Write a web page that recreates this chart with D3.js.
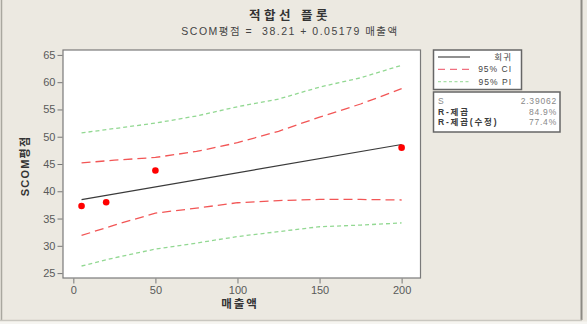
<!DOCTYPE html>
<meta charset="utf-8">
<head>
    <meta charset="utf-8">
    <title>적합선 플롯</title>
    <script src="https://d3js.org/d3.v7.min.js" charset="utf-8"></script>
    <style>
        html, body {
            margin: 0;
            padding: 0;
            background: #ece9e1;
        }
        text {
            font-family: "Liberation Sans", "Noto Sans CJK KR", sans-serif;
        }
        .axis text {
            font-size: 11px;
            fill: #5a5a5a;
        }
        .axis path, .axis line {
            stroke: #777;
        }
        .line {
            fill: none;
        }
    </style>
</head>

<body>
<div class="chart"></div>

<script>

/****************************
1. データ
****************************/

// 관측값
var salesX = [5, 20, 50, 200];
var scoreY = [37.3, 38.0, 43.8, 48.0];

// 적합선 (SCOM평점 = 38.21 + 0.05179 매출액) 양 끝
var fitX = [5, 200];
var fitY = [38.47, 48.57];

// 신뢰구간 / 예측구간
var bandX   = [5, 25, 50, 75, 100, 125, 150, 175, 200];
var ciUpper = [45.2, 45.7, 46.2, 47.3, 48.9, 51.0, 53.6, 56.0, 58.8];
var ciLower = [31.9, 33.8, 36.0, 36.9, 37.9, 38.3, 38.5, 38.5, 38.4];
var piUpper = [50.7, 51.5, 52.5, 53.8, 55.5, 56.9, 59.1, 60.8, 63.1];
var piLower = [26.3, 27.8, 29.4, 30.5, 31.7, 32.6, 33.5, 33.8, 34.2];

var xTicks = [0, 50, 100, 150, 200];
var yTicks = [25, 30, 35, 40, 45, 50, 55, 60, 65];

var legendLabels = ["회귀", "95% CI", "95% PI"];
var statNames  = ["S", "R-제곱", "R-제곱(수정)"];
var statValues = ["2.39062", "84.9%", "77.4%"];

/****************************
2. svg
****************************/

var W = 587, H = 324;
var plot = {left: 63, right: 420.5, top: 50, bottom: 278};

var svg = d3.select(".chart")
    .append("svg")
    .attr("width", W)
    .attr("height", H);

// 바깥 테두리
svg.append("line").attr("x1", 1.5).attr("x2", 1.5).attr("y1", 0).attr("y2", 320)
    .attr("stroke", "#a9a79f").attr("stroke-width", 1.5);
svg.append("line").attr("x1", 581.5).attr("x2", 581.5).attr("y1", 0).attr("y2", 320)
    .attr("stroke", "#8c8a83").attr("stroke-width", 2);
svg.append("line").attr("x1", 0).attr("x2", 582).attr("y1", 320.5).attr("y2", 320.5)
    .attr("stroke", "#c9c7c0").attr("stroke-width", 1.5);
svg.append("rect").attr("x", 0).attr("y", 321.5).attr("width", W).attr("height", 3)
    .attr("fill", "#f6f5f1");

var xScale = d3.scaleLinear()
    .domain([-6.3, 211.5])
    .range([plot.left, plot.right]);

var yScale = d3.scaleLinear()
    .domain([24.1, 65.9])
    .range([plot.bottom, plot.top]);

// 플롯 영역
svg.append("rect")
    .attr("x", plot.left).attr("y", plot.top)
    .attr("width", plot.right - plot.left)
    .attr("height", plot.bottom - plot.top)
    .attr("fill", "#fff")
    .attr("stroke", "#7a7a7a")
    .attr("stroke-width", 1.2);

/****************************
3. 축
****************************/

var yAxis = svg.append("g")
    .attr("class", "axis")
    .attr("transform", "translate(" + (plot.left - 0.5) + ",0)")
    .call(d3.axisLeft(yScale).tickValues(yTicks).tickSize(5).tickPadding(2));
yAxis.select(".domain").remove();

var xAxis = svg.append("g")
    .attr("class", "axis")
    .attr("transform", "translate(0," + (plot.bottom + 0.5) + ")")
    .call(d3.axisBottom(xScale).tickValues(xTicks).tickSize(5).tickPadding(3));
xAxis.select(".domain").remove();

svg.append("text")
    .attr("x", 240).attr("y", 308)
    .attr("text-anchor", "middle")
    .style("font-size", "11.5px").style("font-weight", "bold").style("fill", "#333")
    .style("letter-spacing", "2px")
    .text("매출액");

svg.append("text")
    .attr("transform", "translate(29,166) rotate(-90)")
    .attr("text-anchor", "middle")
    .style("font-size", "11px").style("font-weight", "bold").style("fill", "#333")
    .style("letter-spacing", "1.2px")
    .text("SCOM평점");

// 제목
svg.append("text")
    .attr("x", 290).attr("y", 20)
    .attr("text-anchor", "middle")
    .style("font-size", "12.5px").style("font-weight", "bold").style("fill", "#333")
    .style("letter-spacing", "3.5px")
    .text("적합선 플롯");

svg.append("text")
    .attr("x", 290).attr("y", 35)
    .attr("text-anchor", "middle")
    .style("font-size", "10.5px").style("fill", "#444")
    .style("letter-spacing", "1.5px")
    .attr("xml:space", "preserve")
    .text("SCOM평점 =  38.21 + 0.05179 매출액");

/****************************
4. 선과 점
****************************/

var line = d3.line()
    .x(d => xScale(d[0]))
    .y(d => yScale(d[1]));

function pairs(xs, ys) { return xs.map((x, i) => [x, ys[i]]); }

var bands = [
    {v: piUpper, color: "#92d892", dash: "4,3"},
    {v: piLower, color: "#92d892", dash: "4,3"},
    {v: ciUpper, color: "#f25656", dash: "9,5"},
    {v: ciLower, color: "#f25656", dash: "9,5"}
];

svg.selectAll(".band")
    .data(bands)
    .enter()
    .append("path")
    .attr("class", "line band")
    .attr("d", d => line(pairs(bandX, d.v)))
    .attr("stroke", d => d.color)
    .attr("stroke-width", 1.3)
    .attr("stroke-dasharray", d => d.dash);

svg.append("path")
    .attr("class", "line")
    .attr("d", line(pairs(fitX, fitY)))
    .attr("stroke", "#3a3a3a")
    .attr("stroke-width", 1.2);

svg.selectAll(".pt")
    .data(pairs(salesX, scoreY))
    .enter()
    .append("circle")
    .attr("cx", line.x())
    .attr("cy", line.y())
    .attr("r", 3.3)
    .attr("fill", "#f00");

/****************************
5. 범례
****************************/

var lg = svg.append("g");
lg.append("rect")
    .attr("x", 433.5).attr("y", 50).attr("width", 88).attr("height", 39.5)
    .attr("fill", "#fff").attr("stroke", "#666").attr("stroke-width", 1.5);

var legendStyle = [
    {color: "#555", dash: null},
    {color: "#f07080", dash: "7,5"},
    {color: "#a8e0a8", dash: "3,2.5"}
];

legendLabels.forEach(function(lab, i) {
    var y = 57 + i * 12.3;
    lg.append("line")
        .attr("x1", 438).attr("x2", 470).attr("y1", y).attr("y2", y)
        .attr("stroke", legendStyle[i].color)
        .attr("stroke-width", 1.3)
        .attr("stroke-dasharray", legendStyle[i].dash);
    lg.append("text")
        .attr("x", 512).attr("y", y + 3)
        .attr("text-anchor", "end")
        .style("font-size", "8.5px").style("fill", "#444")
        .style("letter-spacing", "1px")
        .text(lab);
});

lg.append("rect")
    .attr("x", 433.5).attr("y", 92).attr("width", 126.5).attr("height", 40)
    .attr("fill", "#fff").attr("stroke", "#666").attr("stroke-width", 1.5);

statNames.forEach(function(n, i) {
    var y = 104 + i * 10.6;
    lg.append("text")
        .attr("x", 438).attr("y", y)
        .style("font-size", "8.5px").style("fill", i == 0 ? "#888" : "#3a3a3a")
        .style("font-weight", i == 0 ? "normal" : "bold")
        .style("letter-spacing", "1.8px")
        .text(n);
    lg.append("text")
        .attr("x", 557).attr("y", y)
        .attr("text-anchor", "end")
        .style("font-size", "8.5px").style("fill", "#888")
        .style("letter-spacing", "0.8px")
        .text(statValues[i]);
});

</script>
</html>
